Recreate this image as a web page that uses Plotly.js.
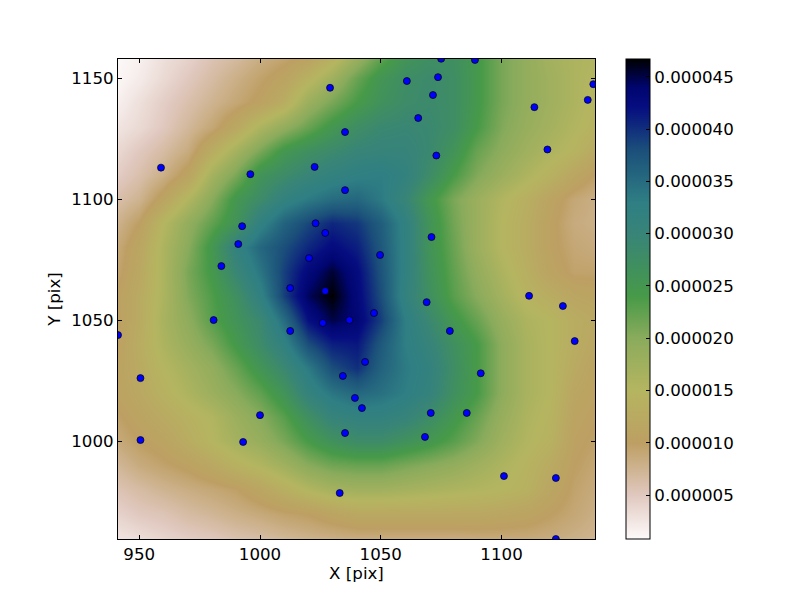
<!DOCTYPE html>
<html><head><meta charset="utf-8">
<script src="https://cdn.plot.ly/plotly-3.0.1.min.js"></script>
<style>html,body{margin:0;padding:0;background:#fff}</style></head>
<body><div id="chart" style="width:800px;height:600px"></div>
<script>
const gridX=[940,950,960,970,980,990,1000,1010,1020,1030,1040,1050,1060,1070,1080,1090,1100,1110,1120,1130,1140];
const gridY=[960,970,980,990,1000,1010,1020,1030,1040,1050,1060,1070,1080,1090,1100,1110,1120,1130,1140,1150,1160];
// density, in units of 1e-6, bottom row first
const density=[
[2.5,3.2,4,4.7,5.2,6,6.5,7.2,7.8,8.2,8.5,8.5,8.5,8.5,8.5,8.7,8.8,8.8,8.5,8,7.5],
[4,5,5.5,6.5,7.2,8,8.7,9.5,10,11,12,12,12,12,12,12,11.5,11,10,9,8],
[5.5,6.5,7.5,8.3,9,9.8,11.5,13.5,15.5,17,17.5,17.5,17,16.5,16,15.5,15,14,11.5,9.5,8.5],
[7,8.5,9.5,10.5,12,14,15.5,17.5,20,21.5,22,22,21,20,19,17.5,16,14.5,12.5,10,9],
[8.5,10,11,13,15,17,18.5,21,24,26.5,28,28,26.5,25,23,20.5,17.5,15.5,14,10.5,9.5],
[9.5,11,12.5,14,15.5,18,20,23,27,30.5,31.5,31.5,30.5,28,25,22,18.5,16,14.5,11,10],
[10.5,12,14,16,18,20,22.5,26,31,34,35.5,34.5,33,31,27,24,19.5,16.5,15,11.5,10.5],
[10.5,12.5,15,17,19,22,25.5,29,33.5,38,40,36,33.5,31.5,27.5,24,19.5,16.5,15,12.5,10.5],
[10,13,16,18.5,21,24.5,28,32,38,41,41.5,37,33,30.5,27,24,19.5,16.5,15,13,11.5],
[10,12.5,16.5,19.5,23,26,29,35,42,45,43.5,39,33,29,25,22,18.5,16,15,13,12],
[10,12.5,16,20.5,23.5,27,32,39,44.5,46.7,43,38,31.5,27,23,20,17,14.5,13,11.5,11],
[9,12,16,21,24.5,29.5,34,39,43,45.5,42.5,37.5,32,26.5,22.5,19,16,13.5,11,9.5,9.5],
[8.5,11.5,16,20,25,31.5,35.5,38,40.5,42.5,41,37,32,26,22,18,15,13,10.5,9,8.5],
[7.5,10,15,19,22.5,26,32,36,38.5,40.5,39.5,36.5,32,26,21.5,18,15,13,10.5,8.5,8],
[6,7.5,11,15.5,20,25,28,31.5,33.5,35,35.5,33.5,30,25,21,18,15.5,13.5,11,9,8],
[4.5,6,8,11,17,21,26,28,30,31.5,32.5,33,31.5,28,24,20.5,18,16,14,11.5,9.5],
[3.5,5,6.5,8.5,13,17,21,25,27,28.5,30,30.5,30.5,29,26,22,19.5,17.5,16,14.5,12],
[2.5,3.5,5,7,9,12,16,19,22,25,27.5,29,29.5,29,27.5,24,20.5,18.5,17,15.5,14],
[1.5,3,4.5,6,7.5,9,10.5,13,18,21,24,26.5,28,28.5,27.5,24.5,21,19,17.5,16,14.5],
[1,2,3.5,5,6.5,8,9.5,11,14,17.5,22,25.5,27.5,28.5,27.5,24.5,21,19,17.5,16,15],
[0.8,1.5,3,4,5.5,6.5,8,9,10,13,17.5,22,25.5,27,27,24.5,21,19,17,16,15.5]
];
const pointsX=[1029,1060.8,1075,1089,1073.7,1071.6,1065.5,1113.6,1135.7,1138,1119,1073,1035.2,1022.6,996,1035.2,992.6,991,984,1023,1027,1020.3,1049.7,1071,1069,1111.4,1125.4,1130.3,1078.6,1091.4,1085.6,1070.7,1068.3,1101,1122.5,1122.5,1033,1035.2,993,950.5,950.5,941.2,980.8,1000,1012.5,1012.5,1027,1026,1037,1047.2,1043.5,1034.3,1039.3,1042.2,959];
const pointsY=[1146,1148.8,1158,1157.5,1150.4,1143,1133.5,1138,1141,1147.5,1120.5,1118,1127.7,1113.3,1110.3,1103.7,1088.8,1081.4,1072.3,1090,1086,1075.6,1076.9,1084.3,1057.4,1060,1055.8,1041.3,1045.5,1028,1011.6,1011.6,1001.7,985.5,984.7,959.5,978.5,1003.3,999.6,1000.4,1026,1043.8,1050,1010.7,1045.5,1063.2,1062,1048.8,1050,1052.9,1032.7,1026.9,1017.8,1013.6,1113];
const colorStops=[0,0.0915,0.2,0.31,0.418,0.505,0.636,0.70,0.81,0.90,0.94,1];
const colorValues=['#fdfafa','#e0c8bf','#bd9f63','#b5b560','#8aab5c','#479a48','#388478','#2f7f84','#1b4f7a','#060d80','#000570','#000000'];
const colorbarTicks=[5,10,15,20,25,30,35,40,45];
const xTicks=[950,1000,1050,1100];
const yTicks=[1000,1050,1100,1150];
const font={family:'"DejaVu Sans",sans-serif',size:16.67,color:'#000'};
const axis={showline:true,mirror:'ticks',linecolor:'#000',linewidth:1,ticks:'inside',ticklen:4,tickcolor:'#000',showgrid:false,zeroline:false,tickfont:font};
Plotly.newPlot('chart',[
{type:'heatmap',x:gridX,y:gridY,z:density.map(r=>r.map(v=>v*1e-6)),zsmooth:'best',zmin:0.8e-6,zmax:46.7e-6,
 colorscale:colorStops.map((s,i)=>[s,colorValues[i]]),hoverinfo:'skip',
 colorbar:{thicknessmode:'pixels',thickness:24,lenmode:'fraction',len:1,x:1.0649,xanchor:'left',y:0.5,yanchor:'middle',xpad:0,ypad:0,
  outlinecolor:'#000',outlinewidth:1,ticks:'inside',ticklen:4,tickcolor:'#000',tickvals:colorbarTicks.map(v=>v*1e-6),ticktext:colorbarTicks.map(v=>(v*1e-6).toFixed(6)),tickfont:font}},
{type:'scatter',mode:'markers',x:pointsX,y:pointsY,marker:{color:'#0000ff',size:7,line:{color:'#000',width:0.7}},showlegend:false}
],{
 width:800,height:600,margin:{l:117.5,r:205,t:59,b:61},paper_bgcolor:'#fff',plot_bgcolor:'#fff',font:font,showlegend:false,
 xaxis:Object.assign({},axis,{range:[941.2,1138.7],tickvals:xTicks,title:{text:'X [pix]',font:font,standoff:4}}),
 yaxis:Object.assign({},axis,{range:[959.5,1157.9],tickvals:yTicks,title:{text:'Y [pix]',font:font,standoff:6}})
},{displayModeBar:false,staticPlot:true});
</script></body></html>
